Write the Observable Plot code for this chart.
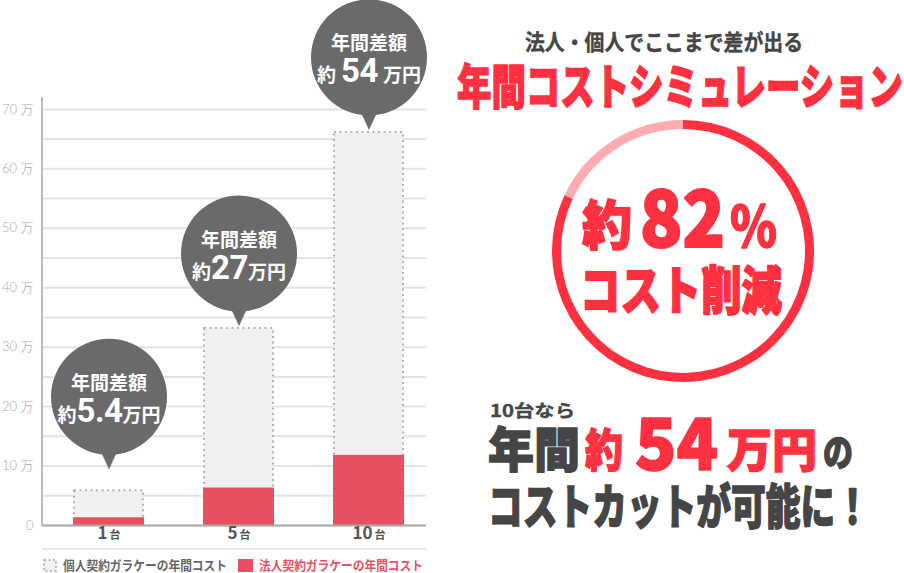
<!DOCTYPE html>
<html><head><meta charset="utf-8">
<script src="https://cdn.jsdelivr.net/npm/d3@7"></script>
<script src="https://cdn.jsdelivr.net/npm/@observablehq/plot@0.6"></script>
<style>
html,body{margin:0;padding:0;background:#fff;}
#chart{width:904px;height:573px;position:relative;overflow:hidden;}
</style></head><body><div id="chart"></div>
<script>
// ---- data ----
const units = ["1台", "5台", "10台"];
const individualCost = [6.0, 33.3, 66.3];   // 万円 / year (個人契約)
const corporateCost = [1.3, 6.3, 11.8];     // 万円 / year (法人契約)
const savingsAmount = ["5.4", "27", "54"];  // 年間差額 label
const yTickValues = [0, 10, 20, 30, 40, 50, 60, 70];
const gridValues = [0, 5, 10, 15, 20, 25, 30, 35, 40, 45, 50, 55, 60, 65, 70];
const legendLabels = ["個人契約ガラケーの年間コスト", "法人契約ガラケーの年間コスト"];
const costReductionPct = [82];
const headline = "法人・個人でここまで差が出る";
const titleText = "年間コストシミュレーション";
const ringLine2 = "コスト削減";
const bottomLead = "10台なら";
const bottomLine2 = "コストカットが可能に！";

const rows = units.map((u, i) => ({unit: u, individual: individualCost[i], corporate: corporateCost[i], saving: savingsAmount[i]}));

const W = 904, H = 573;
const RED = "#ff3141", BAR_RED = "#e8505f", DARK = "#454545", BUBBLE = "#6b6a6b";
const JP = "'Noto Sans CJK JP', 'Noto Sans', sans-serif";

function bubble(data, lift) {
  const c = -(74 + lift);
  return [
    Plot.vector(data, {x: "unit", y: "individual", length: 24, rotate: 180, shape: "spike", r: 11, anchor: "end", dy: -(2 + lift), fill: BUBBLE, stroke: BUBBLE, strokeWidth: 0.5}),
    Plot.dot(data, {x: "unit", y: "individual", r: 58, dy: c, fill: BUBBLE}),
    Plot.text(data, {x: "unit", y: "individual", text: () => "年間差額", dy: c - 7, lineAnchor: "bottom", fill: "white", fontSize: 19, fontWeight: "bold"}),
    Plot.text(data, {x: "unit", y: "individual", text: d => `約${d.saving}万円`, dy: c + 25, lineAnchor: "bottom", fill: "white", fontSize: 19, fontWeight: "bold"})
  ];
}

function decor(index, scales, values, dims) {
  const g = d3.create("svg:g").attr("font-family", JP).attr("text-anchor", "start");
  const xl = dims.marginLeft, xr = dims.width - dims.marginRight;
  const y = scales.y;
  // y axis line
  g.append("line").attr("x1", xl).attr("x2", xl).attr("y1", y(72)).attr("y2", y(0) + 1)
    .attr("stroke", "#bdbdbd").attr("stroke-width", 2);
  // separator under x labels
  g.append("line").attr("x1", xl).attr("x2", xr).attr("y1", 549).attr("y2", 549)
    .attr("stroke", "#e6e6e6").attr("stroke-width", 2);
  // legend
  g.append("rect").attr("x", 44).attr("y", 560).attr("width", 12).attr("height", 11)
    .attr("fill", "#f0f0f0").attr("stroke", "#b8b8b8").attr("stroke-width", 2).attr("stroke-dasharray", "2 2.5");
  g.append("rect").attr("x", 238).attr("y", 559).attr("width", 15).attr("height", 13).attr("fill", BAR_RED);
  const t = (s, x, yy, size, fill, len, weight = 900, sw = 0) => {
    const e = g.append("text").attr("x", x).attr("y", yy).attr("font-size", size).attr("font-weight", weight)
      .attr("text-anchor", "start")
      .attr("fill", fill).attr("font-family", JP).attr("textLength", len).attr("lengthAdjust", "spacingAndGlyphs").text(s);
    if (sw) e.attr("stroke", fill).attr("stroke-width", sw).attr("stroke-linejoin", "round");
    return e;
  };
  t(legendLabels[0], 63, 570, 13, "#666", 164, 700);
  t(legendLabels[1], 259, 570, 13, BAR_RED, 164, 700);
  // right panel
  t(headline, 525, 50, 22, DARK, 278, 700, 0.4);
  t(titleText, 457, 104, 48, RED, 446, 900, 1.6);
  // ring
  const pct = costReductionPct[0] / 100;
  const arc = d3.arc().innerRadius(122).outerRadius(131);
  const ring = g.append("g").attr("transform", "translate(683,251)");
  ring.append("path").attr("d", arc({startAngle: 2 * Math.PI * pct, endAngle: 2 * Math.PI})).attr("fill", "#ffabb2");
  ring.append("path").attr("d", arc({startAngle: 0, endAngle: 2 * Math.PI * pct})).attr("fill", RED);
  t("約", 582, 245, 53, RED, 50, 900, 1.6);
  t(String(costReductionPct[0]), 640, 247, 78, RED, 85, 900, 2.2);
  t("%", 730, 247, 57, RED, 47, 900, 1.4);
  t(ringLine2, 580, 310, 52, RED, 202, 900, 1.8);
  // bottom right
  t(bottomLead, 490, 417, 17, DARK, 85, 700, 0.4);
  t("年間", 488, 467, 48, DARK, 92, 900, 1.4);
  t("約", 585, 467, 45, RED, 38, 900, 1.4);
  t(savingsAmount[2], 635, 470, 72, RED, 83, 900, 1.6);
  t("万円", 727, 467, 47, RED, 90, 900, 1.4);
  t("の", 823, 466, 38, DARK, 30, 900, 1.2);
  t(bottomLine2, 488, 524, 48, DARK, 382, 900, 1.4);
  return g.node();
}

const plot = Plot.plot({
  width: W, height: H,
  marginLeft: 42, marginRight: W - 426, marginTop: 97, marginBottom: 48,
  x: {domain: units, range: [43, 433], paddingInner: 0.454, paddingOuter: 0.227, axis: null},
  y: {domain: [0, 72]},
  style: {fontFamily: JP, background: "white", overflow: "visible"},
  marks: [
    Plot.ruleY(gridValues, {stroke: "#e3e3e3", strokeWidth: 2}),
    Plot.axisY(yTickValues, {anchor: "left", tickSize: 0, tickPadding: 9, label: null,
      tickFormat: d => d === 0 ? "0" : `${d} 万`, fontSize: 13, fill: "#aaaaaa", fontWeight: 300,
      fontFamily: "Lato, 'Noto Sans CJK JP', sans-serif"}),
    Plot.barY(rows, {x: "unit", y: "individual", fill: "#f0f0f0", stroke: "#b5b5b5", strokeWidth: 2, strokeDasharray: "2 3.5", inset: 1}),
    Plot.barY(rows, {x: "unit", y: "corporate", fill: BAR_RED}),
    Plot.ruleY([0], {stroke: "#aaaaaa", strokeWidth: 2}),
    ...bubble(rows.filter(d => d.unit === "1台"), 19),
    ...bubble(rows.filter(d => d.unit !== "1台"), 0),
    Plot.text(units, {x: d => d, frameAnchor: "bottom", dy: 13, text: d => d, fontSize: 14, fontWeight: "bold", fill: "#555"}),
    decor
  ]
});

// mixed-size labels via tspans
d3.select(plot).selectAll("text").each(function () {
  const s = this.textContent;
  let m;
  const sel = d3.select(this);
  if ((m = s.match(/^(\d+)台$/))) {
    sel.text(null);
    sel.append("tspan").attr("font-size", 17).attr("font-family", "'Noto Sans CJK JP', sans-serif").attr("font-weight", 700).text(m[1]);
    sel.append("tspan").attr("font-size", 11).attr("dx", 2).text("台");
  } else if ((m = s.match(/^約([\d.]+)万円$/))) {
    sel.text(null);
    const wide = m[1].length === 2 && m[1] !== "27";
    sel.append("tspan").attr("font-size", 19).text("約");
    sel.append("tspan").attr("font-size", 33).attr("font-family", "Roboto, sans-serif").attr("font-weight", 700)
      .attr("letter-spacing", -0.5).attr("dx", wide ? 5 : 0).text(m[1]);
    sel.append("tspan").attr("font-size", 19).attr("dx", wide ? 5 : 0).text("万円");
  }
});

document.getElementById("chart").appendChild(plot);
</script>
</body></html>
